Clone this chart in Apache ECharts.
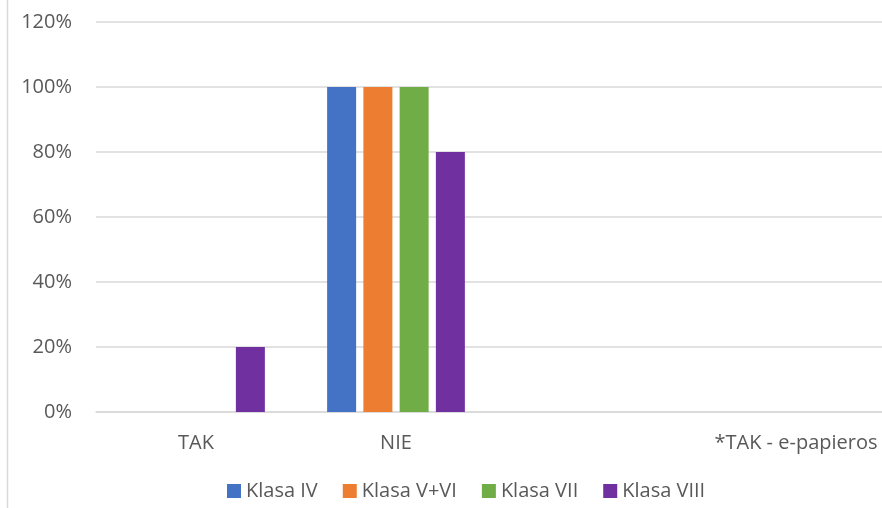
<!DOCTYPE html>
<html>
<head>
<meta charset="utf-8">
<script src="https://cdn.jsdelivr.net/npm/echarts@6/dist/echarts.min.js"></script>
<style>
html,body{margin:0;padding:0;background:#fff;}
#chart{width:882px;height:508px;}
</style>
</head>
<body>
<div id="chart"></div>
<script>
var categories = ["TAK", "NIE", "", "*TAK - e-papieros"];
var seriesNames = ["Klasa IV", "Klasa V+VI", "Klasa VII", "Klasa VIII"];
var klasaIV = [0, 1.0, 0, 0];
var klasaVVI = [0, 1.0, 0, 0];
var klasaVII = [0, 1.0, 0, 0];
var klasaVIII = [0.2, 0.8, 0, 0];
var colors = ["#4472C4", "#ED7D31", "#70AD47", "#7030A0"];
var values = [klasaIV, klasaVVI, klasaVII, klasaVIII];

var font = "'Open Sans', sans-serif";
var chart = echarts.init(document.getElementById('chart'));
chart.setOption({
  animation: false,
  textStyle: {fontFamily: font},
  graphic: [{
    type: 'line',
    shape: {x1: 7.5, y1: 0, x2: 7.5, y2: 508},
    style: {stroke: '#d9d9d9', lineWidth: 1.5}
  }],
  legend: {
    left: 222,
    top: 476,
    itemWidth: 14,
    itemHeight: 14,
    itemGap: 25,
    icon: 'rect',
    textStyle: {color: '#595959', fontSize: 20, fontFamily: font},
    data: seriesNames
  },
  grid: {left: 96, top: 22, right: -14, bottom: 96, containLabel: false, outerBoundsMode: 'none'},
  xAxis: {
    type: 'category',
    data: categories,
    axisLine: {lineStyle: {color: '#d9d9d9', width: 1.5}},
    axisTick: {show: false},
    axisLabel: {color: '#595959', fontSize: 20, margin: 21, fontFamily: font, interval: 0, hideOverlap: false}
  },
  yAxis: {
    type: 'value',
    min: 0, max: 1.2, interval: 0.2,
    axisLine: {show: false},
    axisTick: {show: false},
    splitLine: {lineStyle: {color: '#d9d9d9', width: 1.5}},
    axisLabel: {
      color: '#595959', fontSize: 20, margin: 24, fontFamily: font,
      formatter: function (v) { return Math.round(v * 100) + '%'; }
    }
  },
  series: seriesNames.map(function (n, i) {
    return {
      name: n,
      type: 'bar',
      data: values[i],
      barWidth: 29,
      barGap: '25%',
      itemStyle: {color: colors[i]}
    };
  })
});
</script>
</body>
</html>
